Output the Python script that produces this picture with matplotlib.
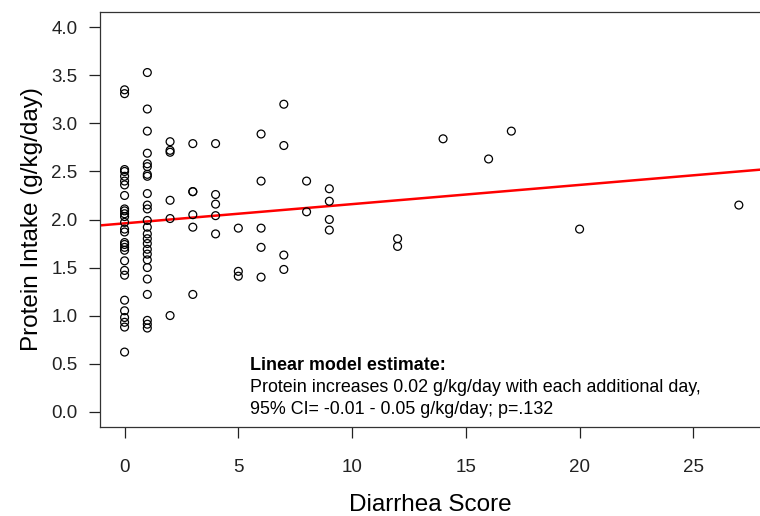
import numpy as np
import matplotlib.pyplot as plt

plt.rcParams["font.family"] = ["Liberation Sans", "DejaVu Sans"]

# diarrhea score groups and the protein intake values read at each score
score_0 = [3.35, 3.31, 2.52, 2.50, 2.45, 2.40, 2.36, 2.25, 2.11, 2.09, 2.06, 2.03,
           1.97, 1.90, 1.87, 1.76, 1.74, 1.71, 1.68, 1.57, 1.47, 1.42, 1.16, 1.05,
           0.98, 0.93, 0.88, 0.62]
score_1 = [3.53, 3.15, 2.92, 2.69, 2.58, 2.55, 2.47, 2.45, 2.27, 2.15, 2.11, 1.99,
           1.92, 1.85, 1.80, 1.75, 1.69, 1.64, 1.58, 1.50, 1.38, 1.22, 0.95, 0.91,
           0.87]
score_2 = [2.81, 2.72, 2.70, 2.20, 2.01, 1.00]
score_3 = [2.79, 2.29, 2.29, 2.05, 1.92, 1.22]
score_4 = [2.79, 2.26, 2.16, 2.04, 1.85]
score_5 = [1.91, 1.46, 1.41]
score_6 = [2.89, 2.40, 1.91, 1.71, 1.40]
score_7 = [3.20, 2.77, 1.63, 1.48]
score_8 = [2.40, 2.08]
score_9 = [2.32, 2.19, 2.00, 1.89]
score_12 = [1.80, 1.72]
score_14 = [2.84]
score_16 = [2.63]
score_17 = [2.92]
score_20 = [1.90]
score_27 = [2.15]

groups = {0: score_0, 1: score_1, 2: score_2, 3: score_3, 4: score_4, 5: score_5,
          6: score_6, 7: score_7, 8: score_8, 9: score_9, 12: score_12, 14: score_14,
          16: score_16, 17: score_17, 20: score_20, 27: score_27}
x = np.concatenate([[k] * len(v) for k, v in groups.items()]).astype(float)
y = np.concatenate([v for v in groups.values()])

# fitted line as drawn (intercept, slope)
intercept = 1.96
slope = 0.02

fig = plt.figure(figsize=(7.6, 5.16), dpi=100)
ax = fig.add_axes([100 / 760, 89 / 516, 660 / 760, 415 / 516])

ax.scatter(x, y, s=32, facecolors="none", edgecolors="black", linewidths=0.9, zorder=3)
ax.axline((0, intercept), slope=slope, color="#ff0000", lw=1.8, zorder=2)

ax.set_xlim(-1.08, 27.93)
ax.set_ylim(-0.16, 4.16)
ax.set_xticks([0, 5, 10, 15, 20, 25])
ax.set_yticks(np.arange(0, 4.01, 0.5))
ax.set_yticklabels([f"{v:.1f}" for v in np.arange(0, 4.01, 0.5)])
ax.tick_params(axis="both", direction="out", length=7.7, width=0.9, labelsize=13.5,
               colors="#222222")
ax.tick_params(axis="y", pad=8.6)
ax.tick_params(axis="x", pad=15)
ax.spines["right"].set_visible(False)
for sp in ("top", "left", "bottom"):
    ax.spines[sp].set_linewidth(0.9)
    ax.spines[sp].set_color("#333333")

ax.set_xlabel("Diarrhea Score", fontsize=17.5, labelpad=13)
ax.set_ylabel("Protein Intake (g/kg/day)", fontsize=17.5, labelpad=6)

ax.text(5.5, 0.48, "Linear model estimate:", fontsize=12.9, fontweight="bold",
        va="center", ha="left")
ax.text(5.5, 0.25, "Protein increases 0.02 g/kg/day with each additional day,",
        fontsize=12.9, va="center", ha="left")
ax.text(5.5, 0.02, "95% CI= -0.01 - 0.05 g/kg/day; p=.132", fontsize=12.9,
        va="center", ha="left")

fig.savefig("out.png", dpi=100, facecolor="white")
